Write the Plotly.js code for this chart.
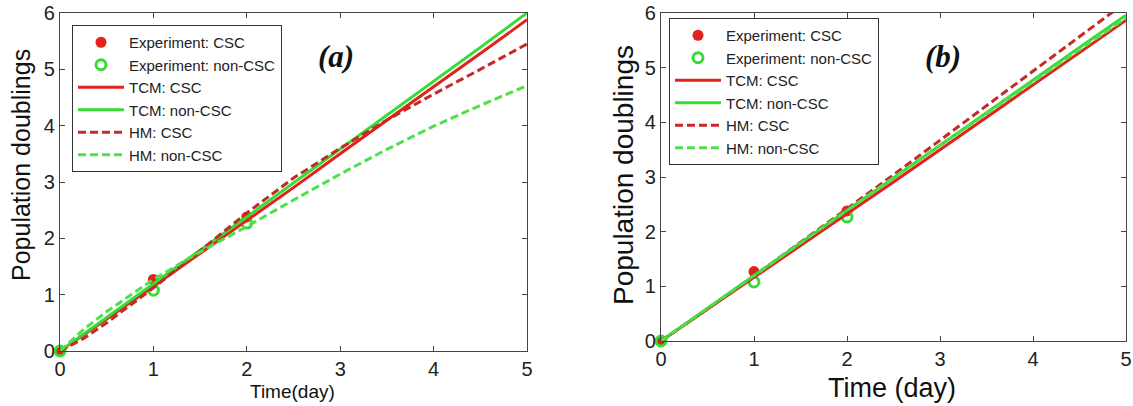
<!DOCTYPE html>
<html>
<head>
<meta charset="utf-8">
<script src="https://cdn.plot.ly/plotly-3.0.1.min.js"></script>
<style>
  html, body { margin: 0; padding: 0; background: #ffffff; }
  #chart { width: 1133px; height: 406px; }
</style>
</head>
<body>
<div id="chart"></div>
<script>
// Measured population doublings (days 0, 1, 2)
const expDays = [0, 1, 2];
const expCSC = [0, 1.27, 2.38];
const expNonCSC = [0, 1.08, 2.27];

// Model curves sampled over time (day)
const modelDays = [0, 0.25, 0.5, 1, 1.5, 2, 2.5, 3, 3.5, 4, 4.5, 5];

// Panel (a)
const tcmCscA = [0, 0.28, 0.57, 1.15, 1.73, 2.31, 2.90, 3.50, 4.10, 4.69, 5.28, 5.88];
const tcmNonA = [0, 0.30, 0.60, 1.20, 1.79, 2.38, 2.98, 3.58, 4.18, 4.79, 5.39, 6.00];
const hmCscA  = [0, 0.22, 0.50, 1.12, 1.78, 2.45, 3.07, 3.60, 4.10, 4.56, 5.00, 5.45];
const hmNonA  = [0, 0.38, 0.70, 1.27, 1.76, 2.21, 2.68, 3.14, 3.58, 3.99, 4.36, 4.71];

// Panel (b)
const tcmCscB = [0, 0.29, 0.58, 1.16, 1.74, 2.33, 2.91, 3.50, 4.09, 4.68, 5.28, 5.87];
const tcmNonB = [0, 0.30, 0.60, 1.20, 1.80, 2.39, 2.98, 3.58, 4.17, 4.77, 5.37, 5.96];
const hmCscB  = [0, 0.29, 0.59, 1.19, 1.80, 2.42, 3.04, 3.67, 4.30, 4.93, 5.56, 6.20];
const hmNonB  = [0, 0.30, 0.60, 1.20, 1.80, 2.40, 2.99, 3.58, 4.16, 4.75, 5.33, 5.91];

const legendNames = ['Experiment: CSC', 'Experiment: non-CSC', 'TCM: CSC', 'TCM: non-CSC', 'HM: CSC', 'HM: non-CSC'];

const RED = '#e0231d';
const RED_DASH = '#c62a26';
const GREEN = '#33dd33';
const GREEN_DASH = '#4ee04e';
const DASH = '8px,4px';

function panelTraces(xa, ya, leg, tcmCsc, tcmNon, hmCsc, hmNon) {
  return [
    { x: expDays, y: expCSC, xaxis: xa, yaxis: ya, legend: leg, name: legendNames[0],
      mode: 'markers', cliponaxis: false,
      marker: { symbol: 'circle', size: 11, color: RED } },
    { x: expDays, y: expNonCSC, xaxis: xa, yaxis: ya, legend: leg, name: legendNames[1],
      mode: 'markers', cliponaxis: false,
      marker: { symbol: 'circle-open', size: 10, color: GREEN, line: { width: 3, color: GREEN } } },
    { x: modelDays, y: tcmCsc, xaxis: xa, yaxis: ya, legend: leg, name: legendNames[2],
      mode: 'lines', line: { color: RED, width: 3 } },
    { x: modelDays, y: tcmNon, xaxis: xa, yaxis: ya, legend: leg, name: legendNames[3],
      mode: 'lines', line: { color: GREEN, width: 3 } },
    { x: modelDays, y: hmCsc, xaxis: xa, yaxis: ya, legend: leg, name: legendNames[4],
      mode: 'lines', line: { color: RED_DASH, width: 3, dash: DASH } },
    { x: modelDays, y: hmNon, xaxis: xa, yaxis: ya, legend: leg, name: legendNames[5],
      mode: 'lines', line: { color: GREEN_DASH, width: 3, dash: DASH } }
  ];
}

const data = [
  ...panelTraces('x', 'y', 'legend', tcmCscA, tcmNonA, hmCscA, hmNonA),
  ...panelTraces('x2', 'y2', 'legend2', tcmCscB, tcmNonB, hmCscB, hmNonB)
];

const W = 1133, H = 406;
const px = v => v / W;
const py = v => (H - v) / H;

function axis(domain, range, anchor, fontSize) {
  return {
    domain: domain, range: range, anchor: anchor,
    showline: true, mirror: 'allticks', linecolor: '#454545', linewidth: 1.2,
    ticks: 'inside', ticklen: 5, tickwidth: 1, tickcolor: '#454545',
    tickvals: [0, 1, 2, 3, 4, 5, 6], showgrid: false, zeroline: false,
    tickfont: { family: 'Liberation Sans, Arial, sans-serif', size: fontSize, color: '#222' },
    fixedrange: true
  };
}

const legendBase = {
  bgcolor: '#ffffff', bordercolor: '#333333', borderwidth: 1,
  font: { family: 'Liberation Sans, Arial, sans-serif', size: 15, color: '#222' },
  itemwidth: 46, xanchor: 'left', yanchor: 'top', traceorder: 'normal',
  tracegroupgap: 0
};

const layout = {
  width: W, height: H,
  margin: { l: 0, r: 0, t: 0, b: 0 },
  paper_bgcolor: '#ffffff', plot_bgcolor: '#ffffff',
  showlegend: true,
  xaxis:  axis([px(60), px(527)], [0, 5], 'y', 20),
  yaxis:  axis([py(351), py(13)], [0, 6], 'x', 20),
  xaxis2: axis([px(661), px(1126)], [0, 5], 'y2', 20),
  yaxis2: axis([py(341), py(13)], [0, 6], 'x2', 20),
  legend:  Object.assign({}, legendBase, { x: px(72), y: py(25) }),
  legend2: Object.assign({}, legendBase, { x: px(669), y: py(18) }),
  annotations: [
    { text: '<b><i>(a)</i></b>', xref: 'paper', yref: 'paper', x: px(336), y: py(56),
      xanchor: 'center', yanchor: 'middle', showarrow: false,
      font: { family: 'Liberation Serif, Times New Roman, serif', size: 31, color: '#111' } },
    { text: '<b><i>(b)</i></b>', xref: 'paper', yref: 'paper', x: px(943), y: py(56),
      xanchor: 'center', yanchor: 'middle', showarrow: false,
      font: { family: 'Liberation Serif, Times New Roman, serif', size: 31, color: '#111' } },
    { text: 'Population doublings', xref: 'paper', yref: 'paper', x: px(21), y: py(165),
      xanchor: 'center', yanchor: 'middle', textangle: -90, showarrow: false,
      font: { family: 'Liberation Sans, Arial, sans-serif', size: 25, color: '#111' } },
    { text: 'Time(day)', xref: 'paper', yref: 'paper', x: px(292), y: py(391),
      xanchor: 'center', yanchor: 'middle', showarrow: false,
      font: { family: 'Liberation Sans, Arial, sans-serif', size: 19, color: '#111' } },
    { text: 'Population doublings', xref: 'paper', yref: 'paper', x: px(623), y: py(175),
      xanchor: 'center', yanchor: 'middle', textangle: -90, showarrow: false,
      font: { family: 'Liberation Sans, Arial, sans-serif', size: 28, color: '#111' } },
    { text: 'Time (day)', xref: 'paper', yref: 'paper', x: px(892), y: py(388),
      xanchor: 'center', yanchor: 'middle', showarrow: false,
      font: { family: 'Liberation Sans, Arial, sans-serif', size: 27, color: '#111' } }
  ]
};

Plotly.newPlot('chart', data, layout, { displayModeBar: false, staticPlot: true });
</script>
</body>
</html>
